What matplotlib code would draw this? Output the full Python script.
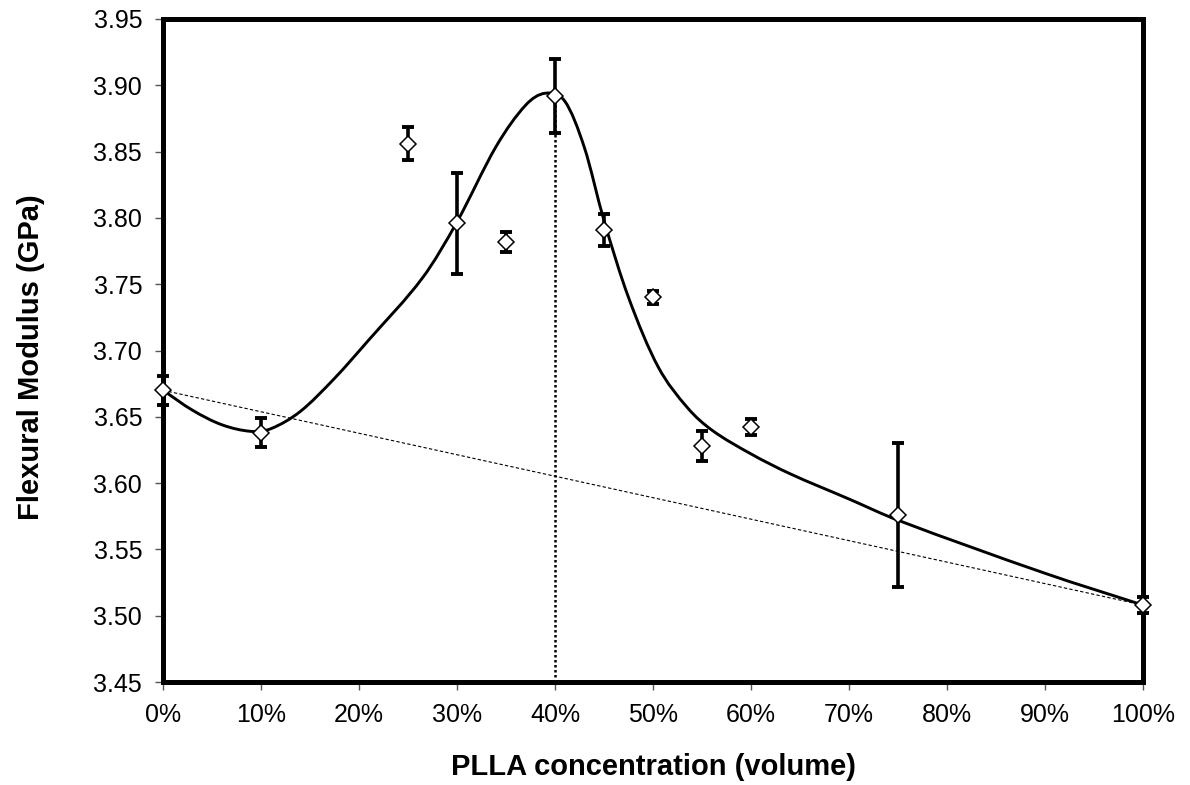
import matplotlib
matplotlib.use('Agg')
import matplotlib.pyplot as plt
from matplotlib.path import Path
from matplotlib.patches import PathPatch
from matplotlib.ticker import FuncFormatter, MultipleLocator

plt.rcParams['font.family'] = ['Liberation Sans', 'DejaVu Sans']

# measured points (PLLA volume %, modulus GPa, error)
conc = [0, 10, 25, 30, 35, 40, 45, 50, 55, 60, 75, 100]
modulus = [3.670, 3.638, 3.856, 3.796, 3.782, 3.892, 3.791, 3.740, 3.628, 3.642, 3.576, 3.508]
err = [0.011, 0.011, 0.0125, 0.038, 0.0075, 0.028, 0.012, 0.005, 0.011, 0.006, 0.054, 0.006]

# smoothed guide curve, knots
curve_x = [0, 3, 6, 9, 11, 14, 17.5, 21, 26.5, 30, 34, 37, 39, 41, 43, 45, 47.5,
           50.5, 53.5, 56, 60, 64, 70, 75, 90, 100]
curve_y = [3.670, 3.655, 3.644, 3.639, 3.641, 3.654, 3.679, 3.708, 3.755, 3.797,
           3.854, 3.885, 3.894, 3.888, 3.853, 3.798, 3.740, 3.688, 3.657, 3.640,
           3.622, 3.607, 3.588, 3.572, 3.532, 3.508]

# rule of mixtures line between the pure components
mix_x = [0, 100]
mix_y = [3.670, 3.508]

# peak marker
peak_x = 40
peak_y = 3.892

fig = plt.figure(figsize=(11.9, 7.85), dpi=100)
ax = fig.add_axes([0.137, 0.1312, 0.8235, 0.8446])

# cubic hermite through the knots, drawn as bezier segments
n = len(curve_x)
slopes = []
for i in range(n):
    a = max(i - 1, 0)
    b = min(i + 1, n - 1)
    slopes.append((curve_y[b] - curve_y[a]) / (curve_x[b] - curve_x[a]))
verts = [(curve_x[0], curve_y[0])]
codes = [Path.MOVETO]
for i in range(n - 1):
    h = curve_x[i + 1] - curve_x[i]
    verts += [(curve_x[i] + h / 3, curve_y[i] + slopes[i] * h / 3),
              (curve_x[i + 1] - h / 3, curve_y[i + 1] - slopes[i + 1] * h / 3),
              (curve_x[i + 1], curve_y[i + 1])]
    codes += [Path.CURVE4] * 3
ax.add_patch(PathPatch(Path(verts, codes), facecolor='none', edgecolor='black',
                       lw=2.1, zorder=3))

ax.plot(mix_x, mix_y, color='black', lw=0.8, dashes=(3, 2), zorder=2)
ax.plot([peak_x, peak_x], [3.45, peak_y], color='black', lw=1.8, ls=(0, (1, 1)), zorder=2)

ax.errorbar(conc, modulus, yerr=err, fmt='none', ecolor='black', elinewidth=2.6,
            capsize=4.5, capthick=2.8, zorder=4, clip_on=False)
ax.plot(conc, modulus, ls='none', marker='D', markersize=8.5, markerfacecolor='white',
        markeredgecolor='black', markeredgewidth=1.1, zorder=5, clip_on=False)

ax.set_xlim(0, 100)
ax.set_ylim(3.45, 3.95)
ax.xaxis.set_major_locator(MultipleLocator(10))
ax.yaxis.set_major_locator(MultipleLocator(0.05))
ax.xaxis.set_major_formatter(FuncFormatter(lambda v, p: f"{v:.0f}%"))
ax.yaxis.set_major_formatter(FuncFormatter(lambda v, p: f"{v:.2f}"))

for s in ax.spines.values():
    s.set_linewidth(3.6)
ax.tick_params(axis='both', direction='out', length=6, width=1, color='#555555',
               labelsize=18, pad=9)

fig.text(653 / 1190, 1 - 775 / 785, 'PLLA concentration (volume)', fontsize=21,
         fontweight='bold', ha='center', va='baseline')
fig.text(31 / 1190, 1 - 357 / 785, 'Flexural Modulus (GPa)', fontsize=21,
         fontweight='bold', ha='center', va='center', rotation=90)

fig.savefig('out.png', dpi=100)
